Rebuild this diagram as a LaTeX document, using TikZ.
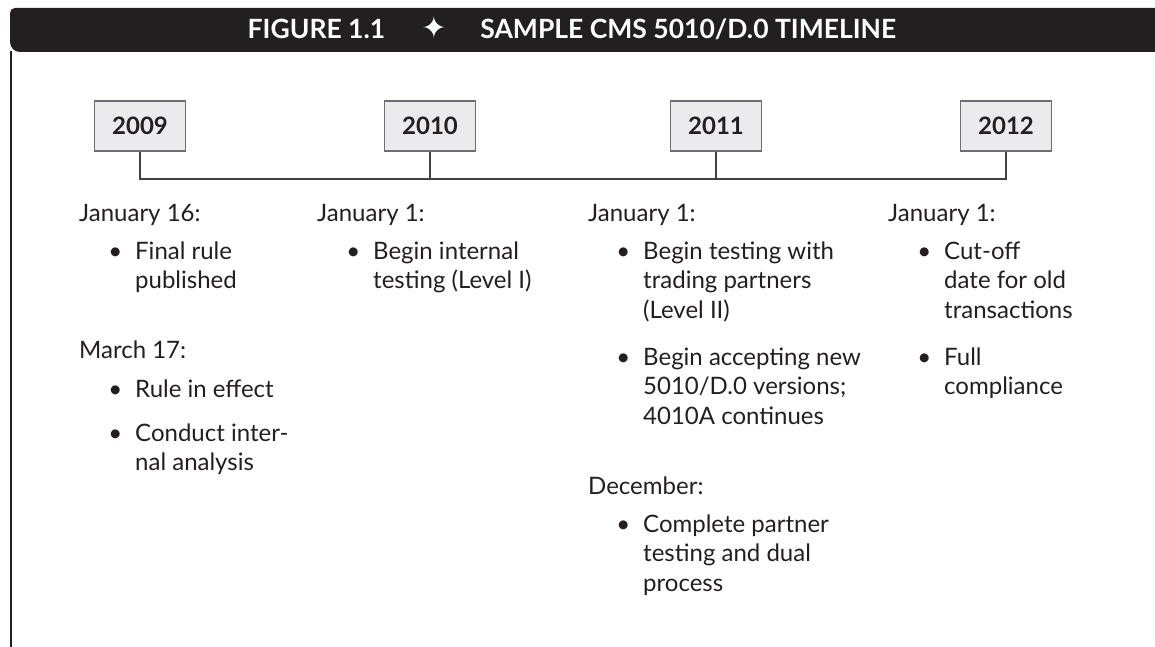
\documentclass[tikz,border=0pt]{standalone}
\usepackage{fontspec}
\setmainfont{Lato}
\newfontfamily\symfont{DejaVu Sans}
\definecolor{ink}{HTML}{231F20}
\definecolor{barcol}{HTML}{231F20}
\definecolor{boxfill}{HTML}{EBEBED}
\definecolor{boxline}{HTML}{6D6E71}
\definecolor{linecol}{HTML}{414042}
\newcommand{\itm}[1]{\parbox[t]{260pt}{\raggedright\fontsize{24}{29.5}\selectfont\leavevmode\llap{\textbullet\hspace{13pt}}#1}}
\begin{document}
\begin{tikzpicture}[x=1pt,y=-1pt,
  yearbox/.style={draw=boxline, fill=boxfill, line width=1.3pt, minimum width=91pt, minimum height=50pt, inner sep=0pt, font=\fontsize{24}{28}\selectfont\bfseries, text=ink},
  conn/.style={draw=linecol, line width=1.2pt},
  head/.style={anchor=base west, inner sep=0pt, font=\fontsize{24}{29}\selectfont, text=ink},
  item/.style={anchor=base west, inner sep=0pt, text=ink},
  title/.style={anchor=base, inner sep=0pt, font=\fontsize{26.5}{30}\selectfont\bfseries, text=white}]
\useasboundingbox (0,0) rectangle (1155,647);
% header bar
\fill[barcol] (1155,8) [rounded corners=5pt] -- (10,8) [rounded corners=10pt] -- (10,52) [sharp corners] -- (1155,52) -- cycle;
\node[title] (ttl) at (572,39) {FIGURE 1.1\hspace{36pt}{\symfont\fontsize{30}{30}\selectfont ✦}\hspace{34pt}SAMPLE CMS 5010/D.0 TIMELINE};
\draw[draw=ink, line width=1.5pt] (11,51) -- (11,647);
% years
\node[yearbox] (y09) at (140,126) {2009};
\node[yearbox] (y10) at (430,126) {2010};
\node[yearbox] (y11) at (716,126) {2011};
\node[yearbox] (y12) at (1006,126) {2012};
\coordinate (t09) at (140,179);
\coordinate (t10) at (430,179);
\coordinate (t11) at (716,179);
\coordinate (t12) at (1006,179);
\draw[conn] (y09.south) -- (t09) -- (t12) -- (y12.south);
\draw[conn] (y10.south) -- (t10);
\draw[conn] (y11.south) -- (t11);
% column 1
\node[head] (h1a) at (79,221) {January 16:};
\node[item] (i1a) at (135,259) {\itm{Final rule\\published}};
\node[head] (h1b) at (79,358) {March 17:};
\node[item] (i1b) at (135,397) {\itm{Rule in effect}};
\node[item] (i1c) at (135,441) {\itm{Conduct inter-\\nal analysis}};
% column 2
\node[head] (h2a) at (317,221) {January 1:};
\node[item] (i2a) at (373,259) {\itm{Begin internal\\testing (Level I)}};
% column 3
\node[head] (h3a) at (588,221) {January 1:};
\node[item] (i3a) at (643,259) {\itm{Begin testing with\\trading partners\\(Level II)}};
\node[item] (i3b) at (643,365) {\itm{Begin accepting new\\5010/D.0 versions;\\4010A continues}};
\node[head] (h3b) at (588,494) {December:};
\node[item] (i3c) at (643,532) {\itm{Complete partner\\testing and dual\\process}};
% column 4
\node[head] (h4a) at (888,221) {January 1:};
\node[item] (i4a) at (944,259) {\itm{Cut-off\\date for old\\transactions}};
\node[item] (i4b) at (944,365) {\itm{Full\\compliance}};
\end{tikzpicture}
\end{document}
